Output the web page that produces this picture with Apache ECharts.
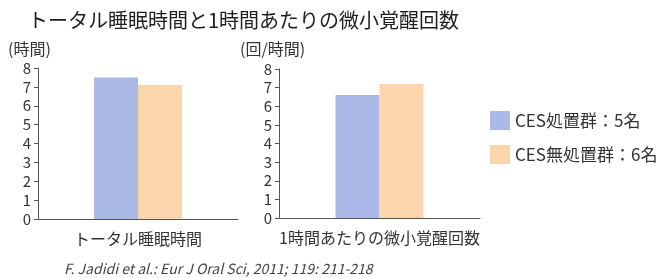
<!DOCTYPE html>
<html>
<head>
<meta charset="utf-8">
<script src="https://cdn.jsdelivr.net/npm/echarts@6/dist/echarts.min.js"></script>
<style>
  html, body { margin: 0; padding: 0; background: #fff; }
  #chart { width: 660px; height: 278px; }
</style>
</head>
<body>
<div id="chart"></div>
<script>
// データ
const groups = ['CES処置群：5名', 'CES無処置群：6名']
const sleepCats = ['トータル睡眠時間']
const arousalCats = ['1時間あたりの微小覚醒回数']
const sleepTreated = [7.5]     // 時間
const sleepUntreated = [7.1]
const arousalTreated = [6.6]   // 回/時間
const arousalUntreated = [7.2]
const yTicks = [0, 1, 2, 3, 4, 5, 6, 7, 8]

const FONT = '"Noto Sans CJK JP", "Noto Sans", sans-serif'
const BLUE = '#aab9e8'
const ORANGE = '#fcd5ad'

let myChart = echarts.init(document.getElementById('chart'))

let xAxisBase = {
  type: 'category',
  axisLine: { lineStyle: { color: '#555', width: 1 } },
  axisTick: { show: false },
  axisLabel: { color: '#333', fontSize: 16, fontFamily: FONT, margin: 12 }
}
let yAxisBase = {
  type: 'value',
  min: yTicks[0],
  max: yTicks[yTicks.length - 1],
  interval: 1,
  axisLine: { show: true, lineStyle: { color: '#555', width: 1 } },
  axisTick: { show: true, inside: false, length: 4, lineStyle: { color: '#555' } },
  axisLabel: { color: '#333', fontSize: 15, fontFamily: FONT, margin: 7 },
  splitLine: { show: false }
}

myChart.setOption({
  animation: false,
  title: [
    {
      text: 'トータル睡眠時間と1時間あたりの微小覚醒回数',
      left: 23, top: 5,
      textStyle: { fontSize: 20, fontWeight: 'normal', color: '#1e1e1e', fontFamily: FONT }
    },
    {
      text: '(時間)', left: 3, top: 36,
      textStyle: { fontSize: 16, fontWeight: 'normal', color: '#333', fontFamily: FONT }
    },
    {
      text: '(回/時間)', left: 235, top: 36,
      textStyle: { fontSize: 16, fontWeight: 'normal', color: '#333', fontFamily: FONT }
    },
    {
      text: 'F. Jadidi et al.: Eur J Oral Sci, 2011; 119: 211-218',
      left: 59, top: 257,
      textStyle: { fontSize: 14, fontWeight: 'normal', fontStyle: 'italic', color: '#444', fontFamily: FONT }
    }
  ],
  legend: {
    orient: 'vertical',
    left: 485, top: 106,
    itemWidth: 20, itemHeight: 19,
    itemGap: 15,
    icon: 'rect',
    data: groups,
    textStyle: { fontSize: 17, color: '#333', fontFamily: FONT }
  },
  grid: [
    { left: 38, top: 68, width: 200, height: 151 },
    { left: 279, top: 69, width: 201, height: 149 }
  ],
  xAxis: [
    { ...xAxisBase, gridIndex: 0, data: sleepCats },
    { ...xAxisBase, gridIndex: 1, data: arousalCats }
  ],
  yAxis: [
    { ...yAxisBase, gridIndex: 0 },
    { ...yAxisBase, gridIndex: 1 }
  ],
  series: [
    {
      name: groups[0], type: 'bar', xAxisIndex: 0, yAxisIndex: 0,
      barWidth: 44, barGap: '0%',
      itemStyle: { color: BLUE }, data: sleepTreated
    },
    {
      name: groups[1], type: 'bar', xAxisIndex: 0, yAxisIndex: 0,
      barWidth: 44, barGap: '0%',
      itemStyle: { color: ORANGE }, data: sleepUntreated
    },
    {
      name: groups[0], type: 'bar', xAxisIndex: 1, yAxisIndex: 1,
      barWidth: 44, barGap: '0%',
      itemStyle: { color: BLUE }, data: arousalTreated
    },
    {
      name: groups[1], type: 'bar', xAxisIndex: 1, yAxisIndex: 1,
      barWidth: 44, barGap: '0%',
      itemStyle: { color: ORANGE }, data: arousalUntreated
    }
  ]
})
</script>
</body>
</html>
